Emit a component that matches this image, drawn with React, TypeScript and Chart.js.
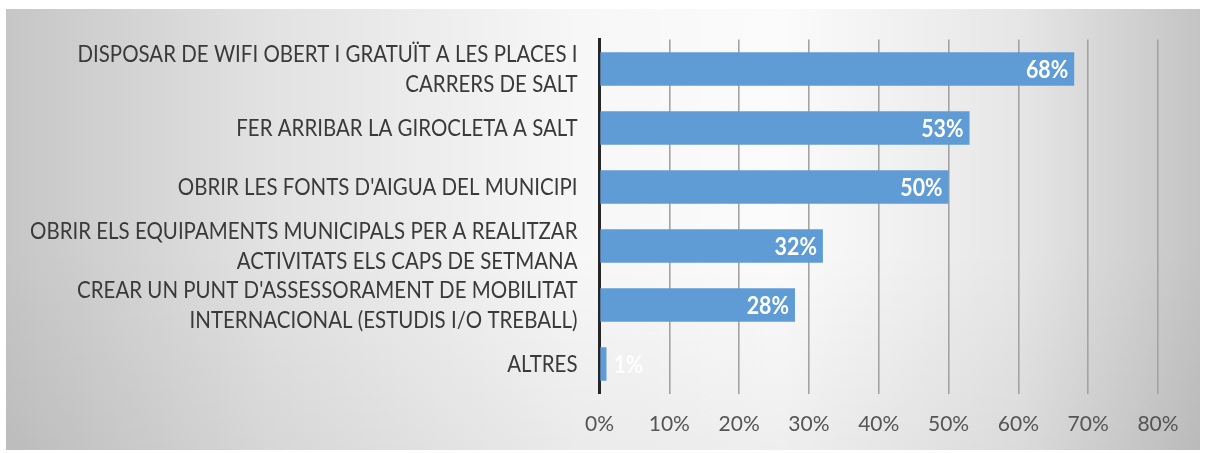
import React, { useEffect, useRef } from "react";
import { Chart, registerables } from "chart.js";

Chart.register(...registerables);

const CATEGORIES: string[][] = [
  ["DISPOSAR DE WIFI OBERT I GRATUÏT A LES PLACES I", "CARRERS DE SALT"],
  ["FER ARRIBAR LA GIROCLETA A SALT"],
  ["OBRIR LES FONTS D'AIGUA DEL MUNICIPI"],
  ["OBRIR ELS EQUIPAMENTS MUNICIPALS PER A REALITZAR", "ACTIVITATS ELS CAPS DE SETMANA"],
  ["CREAR UN PUNT D'ASSESSORAMENT DE MOBILITAT", "INTERNACIONAL (ESTUDIS I/O TREBALL)"],
  ["ALTRES"],
];
const VALUES: number[] = [68, 53, 50, 32, 28, 1];
const X_MIN = 0;
const X_MAX = 80;
const X_STEP = 10;

const SX = 0.89; // horizontal condensing to mimic a narrow font
const LABEL_FONT = "23px Lato";
const VALUE_FONT = "bold 24px Lato";
const LINE_H = 30;

const yLabelPlugin = {
  id: "yLabels",
  afterDraw(chart: any) {
    const ctx = chart.ctx;
    const y = chart.scales.y;
    const rightX = chart.chartArea.left - 22;
    ctx.save();
    ctx.font = LABEL_FONT;
    ctx.fillStyle = "#3a3a3a";
    ctx.textAlign = "right";
    ctx.textBaseline = "middle";
    CATEGORIES.forEach((lines, i) => {
      const cy = y.getPixelForValue(i);
      const n = lines.length;
      lines.forEach((ln, j) => {
        const ly = cy + (j - (n - 1) / 2) * LINE_H + 1;
        ctx.save();
        ctx.translate(rightX, ly);
        ctx.scale(SX, 1);
        ctx.fillText(ln, 0, 0);
        ctx.restore();
      });
    });
    ctx.restore();
  },
};

const valueLabelPlugin = {
  id: "valueLabels",
  afterDatasetsDraw(chart: any) {
    const ctx = chart.ctx;
    const meta = chart.getDatasetMeta(0);
    const base = chart.scales.x.getPixelForValue(0);
    ctx.save();
    ctx.font = VALUE_FONT;
    ctx.textBaseline = "middle";
    meta.data.forEach((el: any, i: number) => {
      const txt = VALUES[i] + "%";
      const w = ctx.measureText(txt).width * SX;
      const inside = el.x - base > w + 12;
      ctx.save();
      if (inside) {
        ctx.translate(el.x - 6, el.y + 1);
        ctx.textAlign = "right";
        ctx.fillStyle = "#ffffff";
      } else {
        ctx.translate(el.x + 7, el.y + 1);
        ctx.textAlign = "left";
        ctx.fillStyle = "rgba(255,255,255,0.9)";
      }
      ctx.scale(SX, 1);
      ctx.fillText(txt, 0, 0);
      ctx.restore();
    });
    ctx.restore();
  },
};

export default function App() {
  const canvasRef = useRef<HTMLCanvasElement | null>(null);

  useEffect(() => {
    if (!canvasRef.current) return;
    const chart = new Chart(canvasRef.current, {
      type: "bar",
      data: {
        labels: CATEGORIES.map((l) => l.join(" ")),
        datasets: [
          {
            data: VALUES,
            backgroundColor: "#5f9cd6",
            borderWidth: 0,
            barPercentage: 0.57,
            categoryPercentage: 1,
          },
        ],
      },
      options: {
        indexAxis: "y",
        animation: false,
        responsive: false,
        maintainAspectRatio: false,
        layout: { padding: { top: 30.5, right: 42, left: 0, bottom: 0 } },
        plugins: {
          legend: { display: false },
          tooltip: { enabled: false },
          title: { display: false },
        },
        scales: {
          x: {
            type: "linear",
            min: X_MIN,
            max: X_MAX,
            ticks: {
              stepSize: X_STEP,
              color: "#555555",
              font: { family: "Lato", size: 21 },
              padding: 18,
              callback: (v: any) => v + "%",
            },
            grid: {
              drawTicks: false,
              lineWidth: 1.6,
              color: (c: any) =>
                c.tick && c.tick.value === 0 ? "rgba(0,0,0,0)" : "#a3a3a3",
            },
            border: { display: false },
            afterFit: (s: any) => {
              s.height = 56.5;
            },
          },
          y: {
            type: "category",
            z: 1,
            ticks: { display: false },
            grid: { display: false },
            border: { display: true, color: "#262626", width: 3 },
            afterFit: (s: any) => {
              s.width = 593.5;
            },
          },
        },
      },
      plugins: [yLabelPlugin, valueLabelPlugin],
    });
    return () => chart.destroy();
  }, []);

  return (
    <div
      style={{
        position: "absolute",
        left: 6,
        top: 9,
        width: 1194,
        height: 441,
        background:
          "linear-gradient(to bottom, rgba(0,0,0,0) 55%, rgba(0,0,0,0.05) 100%), linear-gradient(to right, #c6c6c6 0%, #e2e2e2 22%, #f7f7f7 48%, #fbfbfb 65%, #e6e6e6 85%, #c4c4c4 100%)",
      }}
    >
      <canvas ref={canvasRef} width={1194} height={441} style={{ display: "block" }} />
    </div>
  );
}
